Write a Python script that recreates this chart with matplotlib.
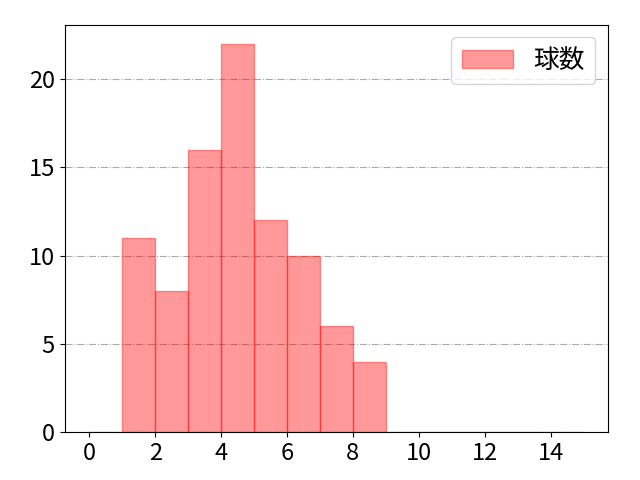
import matplotlib
matplotlib.use("Agg")
import matplotlib.pyplot as plt
import numpy as np

plt.rcParams['font.family'] = ['Noto Sans CJK JP', 'DejaVu Sans']

bin_edges = list(range(0, 16))
counts = [0, 11, 8, 16, 22, 12, 10, 6, 4, 0, 0, 0, 0, 0, 0]
label = "球数"
xticks = [0, 2, 4, 6, 8, 10, 12, 14]
yticks = [0, 5, 10, 15, 20]

fig = plt.figure(figsize=(6.4, 4.8), dpi=100)
ax = fig.add_axes([64.5 / 640, 1 - 432.3 / 480, (608.3 - 64.5) / 640, (432.3 - 24.5) / 480])
ax.bar(bin_edges[:-1], counts, width=1, align='edge', color='red', alpha=0.4,
       edgecolor='red', linewidth=1, label=label)
ax.set_xticks(xticks)
ax.set_yticks(yticks)
ax.tick_params(labelsize=17)
ax.grid(axis='y', linestyle='-.', color='#aaaaaa', linewidth=0.8)
ax.set_axisbelow(True)
ax.legend(loc='upper right', fontsize=18.5)
fig.savefig('out.png', dpi=100)
